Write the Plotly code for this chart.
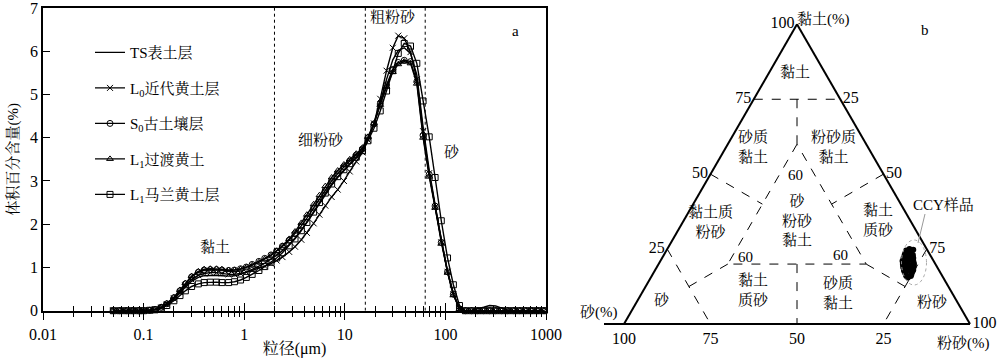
import plotly.graph_objects as go

# ---------------- data: grain-size distribution (panel a) ----------------
sizes = [0.05, 0.058, 0.067, 0.077, 0.089, 0.1, 0.115, 0.13, 0.15, 0.17,
         0.2, 0.23, 0.26, 0.3, 0.35, 0.4, 0.46, 0.53, 0.6, 0.7,
         0.8, 0.92, 1.05, 1.2, 1.4, 1.6, 1.85, 2.1, 2.4, 2.8,
         3.2, 3.7, 4.2, 4.9, 5.6, 6.4, 7.4, 8.5, 9.8, 11.2,
         13, 15, 17, 19.5, 22.5, 26, 30, 34, 39, 45,
         52, 60, 69, 79, 91, 105, 120, 138, 158, 182,
         210, 240, 275, 316, 363, 417, 479, 550, 631, 724,
         832, 955]

ts_topsoil = [0, 0, 0, 0, 0, 0, 0.01, 0.03, 0.07, 0.14,
              0.27, 0.41, 0.55, 0.68, 0.77, 0.81, 0.82, 0.82, 0.81, 0.80,
              0.81, 0.84, 0.89, 0.95, 1.03, 1.10, 1.19, 1.28, 1.39, 1.53,
              1.68, 1.86, 2.04, 2.27, 2.48, 2.69, 2.90, 3.08, 3.24, 3.38,
              3.53, 3.70, 3.97, 4.32, 4.82, 5.35, 5.80, 6.02, 6.08, 5.95,
              5.45, 4.25, 3.25, 2.45, 1.62, 0.92, 0.40, 0.06, 0.0, 0.01,
              0.04, 0.08, 0.12, 0.11, 0.06, 0.02, 0, 0, 0, 0,
              0, 0]

l0_loess = [0, 0, 0, 0, 0, 0, 0.01, 0.03, 0.07, 0.15,
            0.28, 0.43, 0.58, 0.72, 0.82, 0.86, 0.88, 0.88, 0.86, 0.84,
            0.84, 0.86, 0.89, 0.93, 0.98, 1.03, 1.09, 1.16, 1.24, 1.36,
            1.48, 1.64, 1.80, 2.02, 2.22, 2.43, 2.63, 2.80, 3.00, 3.22,
            3.45, 3.66, 3.95, 4.33, 4.90, 5.55, 6.08, 6.36, 6.30, 5.98,
            5.35, 4.15, 3.18, 2.40, 1.58, 0.90, 0.38, 0.05, 0, 0,
            0, 0, 0, 0, 0, 0, 0, 0, 0, 0,
            0, 0]

s0_paleosol = [0, 0, 0, 0, 0, 0, 0.01, 0.03, 0.08, 0.16,
               0.30, 0.46, 0.62, 0.78, 0.89, 0.94, 0.95, 0.95, 0.94, 0.93,
               0.94, 0.97, 1.01, 1.07, 1.14, 1.21, 1.29, 1.38, 1.49, 1.63,
               1.78, 1.96, 2.14, 2.38, 2.58, 2.79, 3.00, 3.17, 3.33, 3.46,
               3.60, 3.74, 4.00, 4.32, 4.78, 5.22, 5.58, 5.74, 5.79, 5.76,
               5.30, 4.05, 3.15, 2.42, 1.58, 0.90, 0.38, 0.04, 0, 0,
               0, 0, 0, 0, 0, 0, 0, 0, 0, 0,
               0, 0]

l1_transition = [0, 0, 0, 0, 0, 0, 0.01, 0.03, 0.08, 0.17,
                 0.31, 0.48, 0.64, 0.80, 0.91, 0.96, 0.97, 0.97, 0.96, 0.94,
                 0.94, 0.96, 1.00, 1.05, 1.12, 1.19, 1.28, 1.38, 1.50, 1.66,
                 1.83, 2.03, 2.22, 2.46, 2.67, 2.88, 3.08, 3.24, 3.38, 3.50,
                 3.63, 3.77, 4.02, 4.33, 4.76, 5.18, 5.52, 5.70, 5.76, 5.72,
                 5.25, 4.00, 3.10, 2.38, 1.55, 0.88, 0.36, 0.04, 0, 0,
                 0, 0, 0, 0, 0, 0, 0, 0, 0, 0,
                 0, 0]

l1_malan = [0, 0, 0, 0, 0, 0, 0.01, 0.02, 0.06, 0.12,
            0.23, 0.35, 0.46, 0.56, 0.62, 0.65, 0.66, 0.66, 0.65, 0.65,
            0.67, 0.71, 0.77, 0.84, 0.93, 1.02, 1.12, 1.22, 1.34, 1.50,
            1.66, 1.85, 2.04, 2.28, 2.50, 2.72, 2.93, 3.10, 3.26, 3.40,
            3.55, 3.70, 3.93, 4.22, 4.62, 5.08, 5.55, 5.95, 6.18, 6.12,
            5.72, 4.85, 4.02, 3.08, 2.08, 1.22, 0.60, 0.12, 0, 0,
            0, 0, 0, 0, 0, 0, 0, 0, 0, 0,
            0, 0]

series_names = ["TS表土层", "L<sub>0</sub>近代黄土层", "S<sub>0</sub>古土壤层",
                "L<sub>1</sub>过渡黄土", "L<sub>1</sub>马兰黄土层"]
series_values = [ts_topsoil, l0_loess, s0_paleosol, l1_transition, l1_malan]
series_symbols = [None, "x-thin", "circle-open", "triangle-up-open", "square-open"]

size_class_limits = [2, 16, 63]
y_max = 7

# ---------------- data: ternary texture diagram (panel b) ----------------
# boundary segments as (clay, sand, silt) vertices
class_boundaries = [
    [(75, 25, 0), (75, 0, 25)],
    [(75, 12.5, 12.5), (60, 20, 20)],
    [(60, 20, 20), (20, 60, 20), (20, 20, 60), (60, 20, 20)],
    [(50, 50, 0), (40, 40, 20)],
    [(50, 0, 50), (40, 20, 40)],
    [(20, 40, 40), (0, 50, 50)],
    [(25, 75, 0), (0, 75, 25)],
    [(12.5, 75, 12.5), (20, 60, 20)],
    [(25, 0, 75), (0, 25, 75)],
    [(12.5, 12.5, 75), (20, 20, 60)],
]

ccy_clay = [25.0, 24.5, 24.5, 24.0, 24.0, 23.5, 23.5, 23.0, 23.0, 23.0,
            22.5, 22.5, 22.0, 22.0, 22.0, 21.5, 21.5, 21.0, 21.0, 21.0,
            20.5, 20.5, 20.0, 20.0, 20.0, 19.5, 19.5, 19.0, 19.0, 19.0,
            18.5, 18.5, 18.0, 18.0, 18.0, 17.5, 17.5, 17.0, 17.0, 16.5,
            16.5, 16.0, 16.0, 15.5, 24.8]
ccy_silt = [70.0, 69.3, 70.8, 69.6, 71.0, 69.5, 71.3, 69.6, 70.9, 72.0,
            70.0, 72.1, 69.8, 71.2, 72.6, 70.2, 72.8, 70.0, 71.6, 73.1,
            70.5, 73.4, 70.6, 72.1, 73.8, 71.0, 73.9, 71.2, 72.7, 74.2,
            71.6, 74.3, 71.9, 73.2, 74.6, 72.3, 74.6, 72.8, 74.6, 73.2,
            74.8, 73.6, 74.9, 74.3, 71.2]

FONT = "Liberation Serif, Times New Roman, Noto Serif CJK SC, Noto Sans CJK SC, serif"
W, H = 1000, 358


def px(x, y):
    return x / W, 1 - y / H


fig = go.Figure()

# dotted class-limit lines
vx, vy = [], []
for lim in size_class_limits:
    vx += [lim, lim, None]
    vy += [0, y_max, None]
fig.add_trace(go.Scatter(x=vx, y=vy, mode="lines", showlegend=False,
                         line=dict(color="black", width=1, dash="dot"),
                         hoverinfo="skip", xaxis="x", yaxis="y"))

for i, (name, vals, sym) in enumerate(zip(series_names, series_values, series_symbols)):
    kw = dict(mode="lines") if sym is None else dict(
        mode="lines+markers",
        marker=dict(symbol=sym, size=6,
                    color="black", line=dict(color="black", width=1)))
    fig.add_trace(go.Scatter(x=sizes, y=vals, name=name, legendgroup=f"g{i}",
                             line=dict(color="black", width=1.4),
                             cliponaxis=False, xaxis="x", yaxis="y", **kw))

# ternary boundaries
ba, bb, bc = [], [], []
for seg in class_boundaries:
    for a, b, c in seg:
        ba.append(a); bb.append(b); bc.append(c)
    ba.append(None); bb.append(None); bc.append(None)
fig.add_trace(go.Scatterternary(a=ba, b=bb, c=bc, mode="lines", showlegend=False,
                                line=dict(color="black", width=1, dash="dash"),
                                hoverinfo="skip", subplot="ternary"))
fig.add_trace(go.Scatterternary(a=ccy_clay, c=ccy_silt, mode="markers", showlegend=False,
                                marker=dict(color="black", size=6, symbol="circle"),
                                subplot="ternary"))

tern_axis = dict(showgrid=False, linecolor="black", linewidth=2, ticks="",
                 tickmode="array", tickvals=[25, 50, 75, 100],
                 tickfont=dict(size=16, family=FONT, color="black"), title=dict(text=""))

fig.update_layout(
    width=W, height=H, margin=dict(l=0, r=0, t=0, b=0, autoexpand=False),
    paper_bgcolor="white", plot_bgcolor="white",
    font=dict(family=FONT, color="black", size=15),
    showlegend=True,
    legend=dict(x=0.09, y=0.899, xanchor="left", yanchor="top",
                bgcolor="rgba(0,0,0,0)", tracegroupgap=13,
                font=dict(size=15, family=FONT)),
    xaxis=dict(type="log", range=[-2, 3], domain=[0.043, 0.546], anchor="y",
               automargin=False, ticklabeloverflow="allow",
               showline=True, linecolor="black", linewidth=1.5, mirror=True,
               ticks="outside", ticklen=8, tickwidth=1.2, tickcolor="black", dtick=1,
               minor=dict(ticks="outside", ticklen=5, tickwidth=1.2, dtick="D1",
                          tickcolor="black", showgrid=False),
               showgrid=False, zeroline=False, tickfont=dict(size=16),
               title=dict(text="粒径(μm)", font=dict(size=16), standoff=2)),
    xaxis2=dict(type="log", range=[-2, 3], domain=[0.043, 0.546], anchor="y",
                automargin=False,
                overlaying="x", side="bottom", showline=False,
                ticks="inside", ticklen=8, tickwidth=1.2, tickcolor="black", dtick=1,
                minor=dict(ticks="inside", ticklen=5, tickwidth=1.2, dtick="D1",
                           tickcolor="black", showgrid=False),
                showgrid=False, zeroline=False, showticklabels=False),
    yaxis=dict(range=[0, y_max], domain=[0.1321, 0.9777], anchor="x",
               automargin=False, ticklabeloverflow="allow",
               showline=True, linecolor="black", linewidth=1.5, mirror=True,
               ticks="inside", ticklen=7, tickwidth=1.2, tickcolor="black", dtick=1,
               showgrid=False, zeroline=False, tickfont=dict(size=16),
               title=dict(text="体积百分含量(%)", font=dict(size=15), standoff=8)),
    ternary=dict(domain=dict(x=[0.624, 0.970], y=[0.0950, 0.932]), sum=100,
                 bgcolor="white", aaxis=tern_axis, baxis=tern_axis, caxis=tern_axis),
)

# dummy anchor trace so xaxis2 is drawn
fig.add_trace(go.Scatter(x=[sizes[0]], y=[0], xaxis="x2", yaxis="y", mode="markers",
                         marker=dict(opacity=0), showlegend=False, hoverinfo="skip"))

annos = [
    ("a", 515, 31, 15), ("粗粉砂", 393, 17, 15), ("细粉砂", 321, 140, 15),
    ("砂", 452, 152, 15), ("黏土", 215, 247, 15),
    ("b", 925, 30, 15), ("黏土(%)", 823, 19, 15), ("砂(%)", 599, 312, 15),
    ("粉砂(%)", 963, 343, 15), ("CCY样品", 943, 205, 15),
    ("黏土", 795, 72, 15), ("砂质<br>黏土", 753, 147, 15), ("粉砂质<br>黏土", 833, 147, 15),
    ("黏土质<br>粉砂", 710, 222, 15), ("砂<br>粉砂<br>黏土", 797, 220, 15),
    ("黏土<br>质砂", 878, 220, 15), ("砂", 662, 300, 15),
    ("黏土<br>质砂", 753, 290, 15), ("砂质<br>黏土", 838, 293, 15), ("粉砂", 932, 302, 15),
    ("60", 795, 175, 15), ("60", 745, 257, 15), ("60", 840, 255, 15),
]
for text, x, y, s in annos:
    ax_, ay_ = px(x, y)
    fig.add_annotation(text=text, x=ax_, y=ay_, xref="paper", yref="paper",
                       showarrow=False, font=dict(size=s, family=FONT, color="black"),
                       xanchor="center", yanchor="middle")

# CCY outline and leader line
x0, y0 = px(901.5, 285)
x1, y1 = px(926.5, 240)
fig.add_shape(type="circle", xref="paper", yref="paper", x0=x0, y0=y0, x1=x1, y1=y1,
              line=dict(color="#aaaaaa", width=1, dash="dot"))
lx0, ly0 = px(925, 214)
lx1, ly1 = px(918, 243)
fig.add_shape(type="line", xref="paper", yref="paper", x0=lx0, y0=ly0, x1=lx1, y1=ly1,
              line=dict(color="#999999", width=1))
# short extension of the triangle's base to the left
ex0, ey0 = px(604, 324)
ex1, ey1 = px(624, 324)
fig.add_shape(type="line", xref="paper", yref="paper", x0=ex0, y0=ey0, x1=ex1, y1=ey1,
              line=dict(color="black", width=2))

fig.write_html("out.html", config={"displayModeBar": False},
               post_script="document.body.style.margin='0px';")
